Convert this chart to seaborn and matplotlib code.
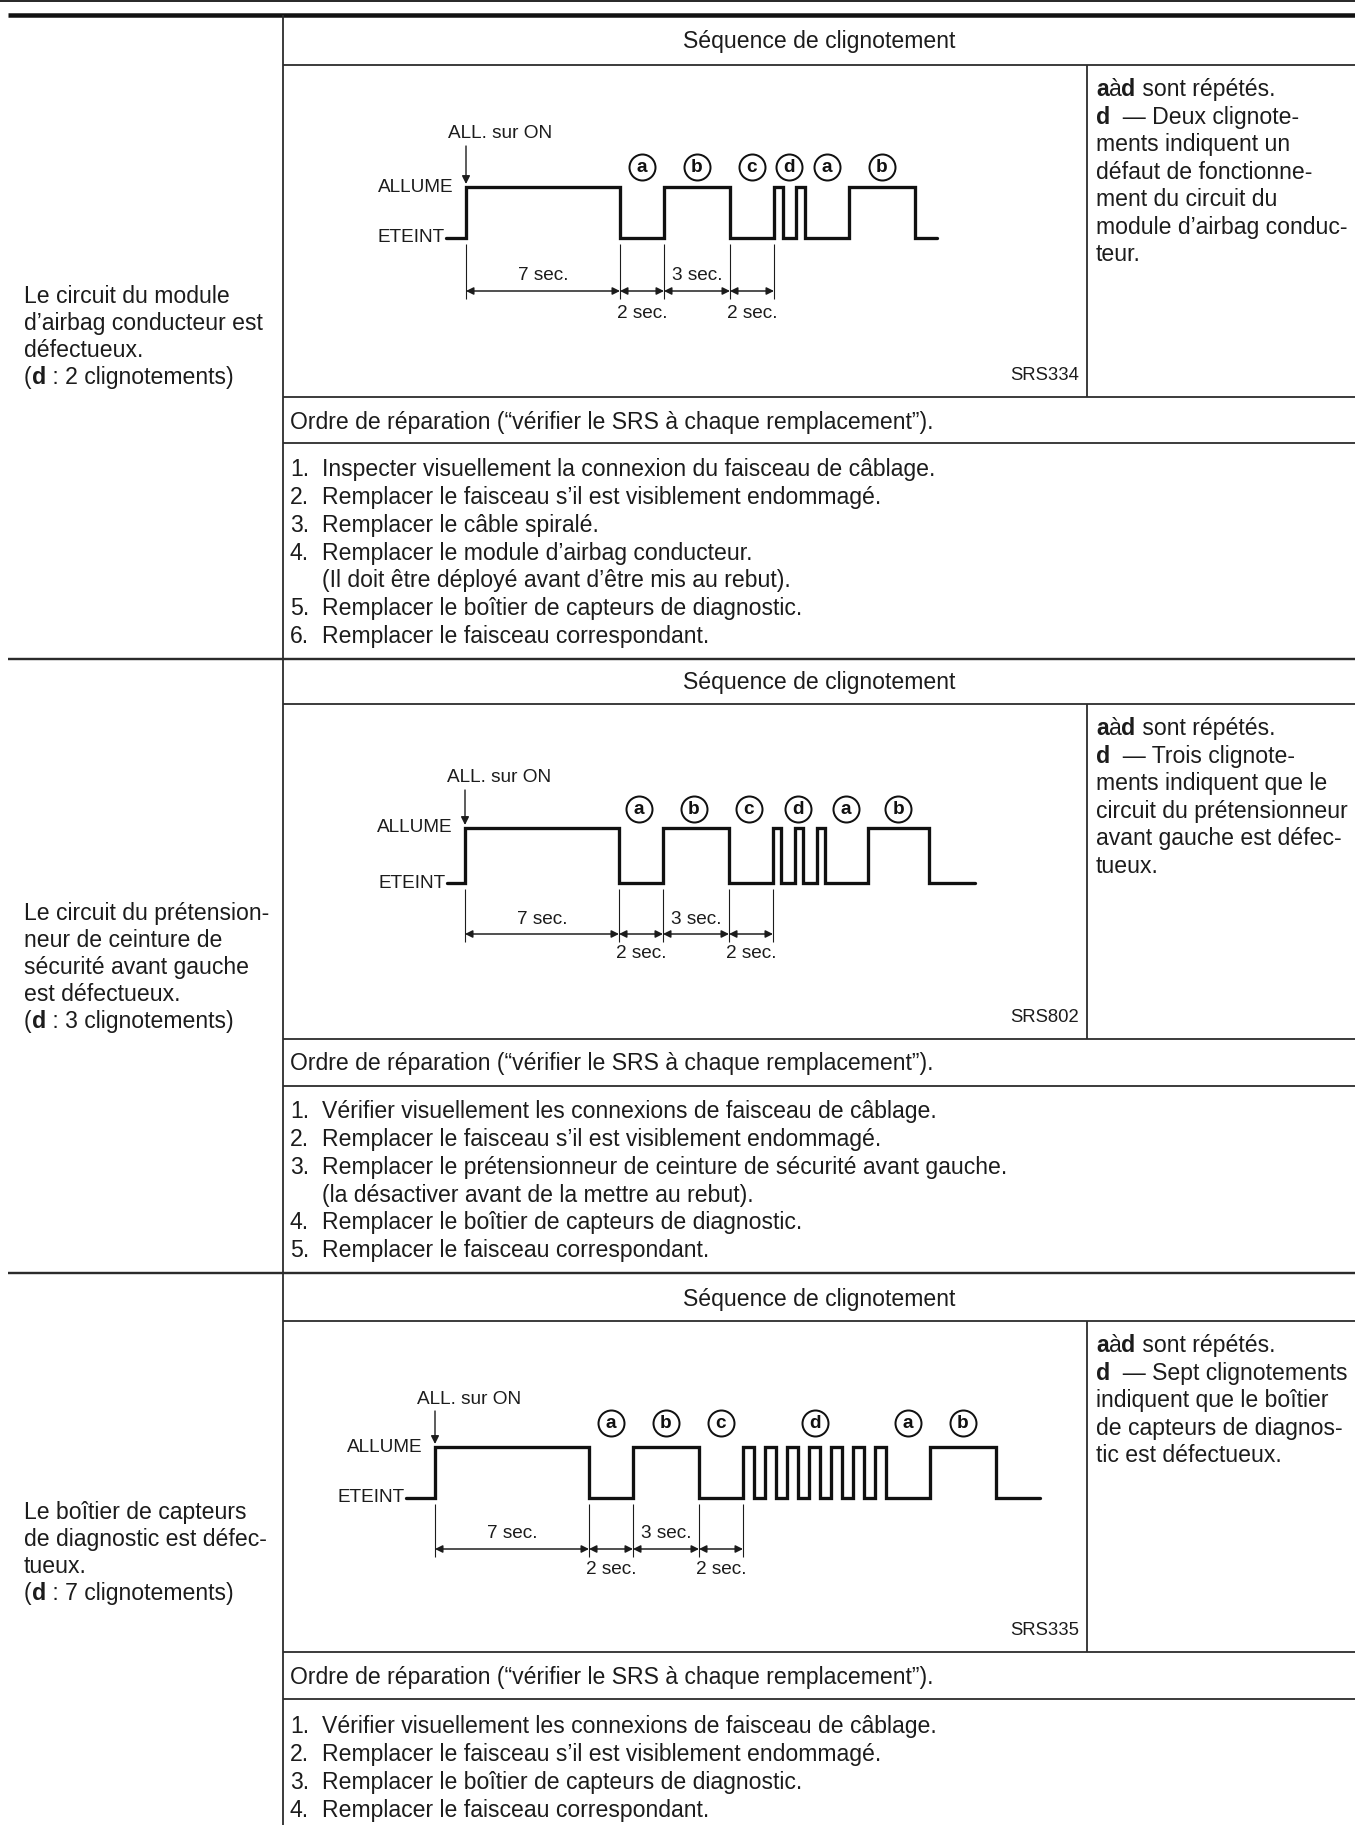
import numpy as np
import pandas as pd
import matplotlib
matplotlib.use("Agg")
import matplotlib.pyplot as plt
import seaborn as sns

# ------------------------------------------------------------------ data
header_text = "Séquence de clignotement"
ordre_text = "Ordre de réparation (“vérifier le SRS à chaque remplacement”)."

left_lines = [
    ["Le circuit du module", "d’airbag conducteur est", "défectueux."],
    ["Le circuit du prétension-", "neur de ceinture de", "sécurité avant gauche", "est défectueux."],
    ["Le boîtier de capteurs", "de diagnostic est défec-", "tueux."],
]
blink_counts = ["2", "3", "7"]

note_first = ["Deux clignote-", "Trois clignote-", "Sept clignotements"]
note_rest = [
    ["ments indiquent un", "défaut de fonctionne-", "ment du circuit du",
     "module d’airbag conduc-", "teur."],
    ["ments indiquent que le", "circuit du prétensionneur",
     "avant gauche est défec-", "tueux."],
    ["indiquent que le boîtier", "de capteurs de diagnos-", "tic est défectueux."],
]
figure_codes = ["SRS334", "SRS802", "SRS335"]

repair_numbers = [
    ["1.", "2.", "3.", "4.", "", "5.", "6."],
    ["1.", "2.", "3.", "", "4.", "5."],
    ["1.", "2.", "3.", "4."],
]
repair_steps = [
    ["Inspecter visuellement la connexion du faisceau de câblage.",
     "Remplacer le faisceau s’il est visiblement endommagé.",
     "Remplacer le câble spiralé.",
     "Remplacer le module d’airbag conducteur.",
     "(Il doit être déployé avant d’être mis au rebut).",
     "Remplacer le boîtier de capteurs de diagnostic.",
     "Remplacer le faisceau correspondant."],
    ["Vérifier visuellement les connexions de faisceau de câblage.",
     "Remplacer le faisceau s’il est visiblement endommagé.",
     "Remplacer le prétensionneur de ceinture de sécurité avant gauche.",
     "(la désactiver avant de la mettre au rebut).",
     "Remplacer le boîtier de capteurs de diagnostic.",
     "Remplacer le faisceau correspondant."],
    ["Vérifier visuellement les connexions de faisceau de câblage.",
     "Remplacer le faisceau s’il est visiblement endommagé.",
     "Remplacer le boîtier de capteurs de diagnostic.",
     "Remplacer le faisceau correspondant."],
]

# lamp waveform: transition times (s) and level (1 = ALLUME, 0 = ETEINT)
wave_t = [
    [-0.9, 0, 7, 9, 12, 14, 14.4, 15, 15.4, 17.4, 20.4, 21.4],
    [-0.8, 0, 7, 9, 12, 14, 14.35, 15, 15.35, 16, 16.35, 18.3, 21.1, 23.2],
    [-1.3, 0, 7, 9, 12, 14, 14.5, 15, 15.5, 16, 16.5, 17, 17.5, 18, 18.5,
     19, 19.5, 20, 20.5, 22.5, 25.5, 27.5],
]
wave_level = [
    [0, 1, 0, 1, 0, 1, 0, 1, 0, 1, 0, 0],
    [0, 1, 0, 1, 0, 1, 0, 1, 0, 1, 0, 1, 0, 0],
    [0, 1, 0, 1, 0, 1, 0, 1, 0, 1, 0, 1, 0, 1, 0, 1, 0, 1, 0, 1, 0, 0],
]
phase_letters = ["a", "b", "c", "d", "a", "b"]
phase_t = [
    [8, 10.5, 13, 14.7, 16.4, 18.9],
    [7.9, 10.4, 12.9, 15.15, 17.3, 19.7],
    [8, 10.5, 13, 17.25, 21.5, 24.0],
]
dim_t = [0, 7, 9, 12, 14]
dim_labels = ["7 sec.", "2 sec.", "3 sec.", "2 sec."]
dim_label_above = [True, False, True, False]

# ------------------------------------------------------------------ layout (pixels)
W, H = 1355, 1825
X_LEFT, X_COL, X_NOTE, X_RIGHT = 8, 283, 1087, 1355
sec_top = [15, 659, 1273]
head_bottom = [65, 704, 1321]
diag_bottom = [397, 1039, 1652]
ordre_bottom = [443, 1086, 1699]
header_y = [40, 681, 1298]
ordre_y = [421, 1062, 1676]
list_y0 = [468, 1110, 1725]
left_y0 = [295, 912, 1511]
x0 = [466, 465, 435]
PXS = 22.0
yA = [187, 828, 1447]
yE = [238, 883, 1498]
y_allon = [134, 778, 1399]
y_circ = [167, 809, 1423]
y_dim = [291, 934, 1549]
y_lab_up = [276, 919, 1534]
y_lab_dn = [313, 953, 1570]
y_code = [373, 1015, 1628]

INK = "#1c1c1c"
LINE = "#2b2b2b"
PT = 0.72  # points per pixel at 100 dpi
F_MAIN = 23 * PT
F_DIAG = 19 * PT
F_CIRC = 19 * PT

sns.set_theme(style="white")
plt.rcParams["font.family"] = ["Liberation Sans", "DejaVu Sans"]

fig = plt.figure(figsize=(W / 100, H / 100), dpi=100)
fig.patch.set_facecolor("white")
ax = fig.add_axes([0, 0, 1, 1])
ax.set_xlim(0, W)
ax.set_ylim(H, 0)
ax.axis("off")
renderer = fig.canvas.get_renderer()


def bl(yc, fpx=23):
    return yc + 0.36 * fpx


def text_width(s, size, weight):
    t = ax.text(0, 0, "X" + s + "X", fontsize=size, fontweight=weight)
    w1 = t.get_window_extent(renderer).width
    t.set_text("XX")
    w2 = t.get_window_extent(renderer).width
    t.remove()
    return w1 - w2


def rich(x, yc, parts, size=F_MAIN):
    for s, bold in parts:
        w = "bold" if bold else "normal"
        ax.text(x, bl(yc), s, fontsize=size, fontweight=w, color=INK,
                ha="left", va="baseline")
        x += text_width(s, size, w)


# ------------------------------------------------------------------ table rules
ax.hlines(1, 0, W, color=LINE, lw=2 * PT)
ax.hlines(15, X_LEFT, W, color="#111111", lw=4.5 * PT)
ax.vlines(X_COL, 15, H, color=LINE, lw=1.8 * PT)
ax.hlines(sec_top[1:], X_LEFT, W, color=LINE, lw=2.4 * PT)
ax.hlines(head_bottom + diag_bottom + ordre_bottom, X_COL, W, color=LINE, lw=1.8 * PT)
for i in range(3):
    ax.vlines(X_NOTE, head_bottom[i], diag_bottom[i], color=LINE, lw=1.8 * PT)

# ------------------------------------------------------------------ texts
LEAD_L = 27.0
LEAD_N = 27.5
LEAD_R = 27.8
for i in range(3):
    # left description
    for k, line in enumerate(left_lines[i]):
        rich(24, left_y0[i] + k * LEAD_L, [(line, False)])
    rich(24, left_y0[i] + len(left_lines[i]) * LEAD_L,
         [("(", False), ("d", True), (" : " + blink_counts[i] + " clignotements)", False)])
    # header
    ax.text((X_COL + X_RIGHT) / 2, bl(header_y[i]), header_text, fontsize=F_MAIN,
            color=INK, ha="center", va="baseline")
    # notes
    ny = head_bottom[i] + 23
    rich(1096, ny, [("a", True), ("à", False), ("d", True), (" sont répétés.", False)])
    rich(1096, ny + LEAD_N, [("d", True), ("  — " + note_first[i], False)])
    for k, line in enumerate(note_rest[i]):
        rich(1096, ny + (k + 2) * LEAD_N, [(line, False)])
    # figure code
    ax.text(1079, bl(y_code[i], 18.5), figure_codes[i], fontsize=18.5 * PT, color=INK,
            ha="right", va="baseline")
    # repair order
    ax.text(290, bl(ordre_y[i]), ordre_text, fontsize=F_MAIN, color=INK,
            ha="left", va="baseline")
    for k, (num, step) in enumerate(zip(repair_numbers[i], repair_steps[i])):
        yy = bl(list_y0[i] + k * LEAD_R)
        if num:
            ax.text(290, yy, num, fontsize=F_MAIN, color=INK, ha="left", va="baseline")
        ax.text(322, yy, step, fontsize=F_MAIN, color=INK, ha="left", va="baseline")

# ------------------------------------------------------------------ waveform diagrams
for i in range(3):
    ytop, ybot = head_bottom[i], diag_bottom[i]
    axd = fig.add_axes([X_COL / W, 1 - ybot / H, (X_NOTE - X_COL) / W, (ybot - ytop) / H])
    axd.set_xlim((X_COL - x0[i]) / PXS, (X_NOTE - x0[i]) / PXS)
    h = yE[i] - yA[i]
    axd.set_ylim((yE[i] - ybot) / h, (yE[i] - ytop) / h)
    axd.axis("off")

    def lv(ypx, i=i, h=h):
        return (yE[i] - ypx) / h

    def px(dx):
        return dx / PXS

    df = pd.DataFrame({"t": wave_t[i], "level": wave_level[i]})
    sns.lineplot(data=df, x="t", y="level", ax=axd, drawstyle="steps-post",
                 color="#111111", lw=3.3 * PT, estimator=None, sort=False,
                 solid_joinstyle="miter")

    # level labels
    axd.text(px(-12), 1, "ALLUME", fontsize=F_DIAG, color=INK, ha="right", va="center")
    axd.text(wave_t[i][0] - px(2), 0, "ETEINT", fontsize=F_DIAG, color=INK,
             ha="right", va="center")
    # ignition switch arrow
    axd.text(px(-18), lv(y_allon[i]), "ALL. sur ON", fontsize=F_DIAG, color=INK,
             ha="left", va="center")
    axd.annotate("", xy=(0, lv(yA[i] - 3)), xytext=(0, lv(y_allon[i] + 12)),
                 arrowprops=dict(arrowstyle="-|>", color=INK, lw=1.4 * PT,
                                 mutation_scale=12, shrinkA=0, shrinkB=0))
    # phase circles
    axd.scatter(phase_t[i], [lv(y_circ[i])] * len(phase_t[i]), s=(26 * PT) ** 2,
                facecolors="white", edgecolors="#111111", linewidths=2.0 * PT, zorder=3)
    for t, L in zip(phase_t[i], phase_letters):
        axd.text(t, lv(y_circ[i]), L, fontsize=F_CIRC, fontweight="bold", color="#111111",
                 ha="center", va="center", zorder=4)
    # dimension lines
    axd.vlines(dim_t, lv(yE[i] + 6), lv(y_dim[i] + 8), color=INK, lw=1.1 * PT)
    for a, b, lab, up in zip(dim_t[:-1], dim_t[1:], dim_labels, dim_label_above):
        axd.annotate("", xy=(b, lv(y_dim[i])), xytext=(a, lv(y_dim[i])),
                     arrowprops=dict(arrowstyle="<|-|>", color=INK, lw=1.5 * PT,
                                     mutation_scale=11, shrinkA=0, shrinkB=0))
        yl = y_lab_up[i] if up else y_lab_dn[i]
        axd.text((a + b) / 2, lv(yl), lab, fontsize=F_DIAG, color=INK,
                 ha="center", va="center")

fig.savefig("out.png", dpi=100, facecolor="white")
